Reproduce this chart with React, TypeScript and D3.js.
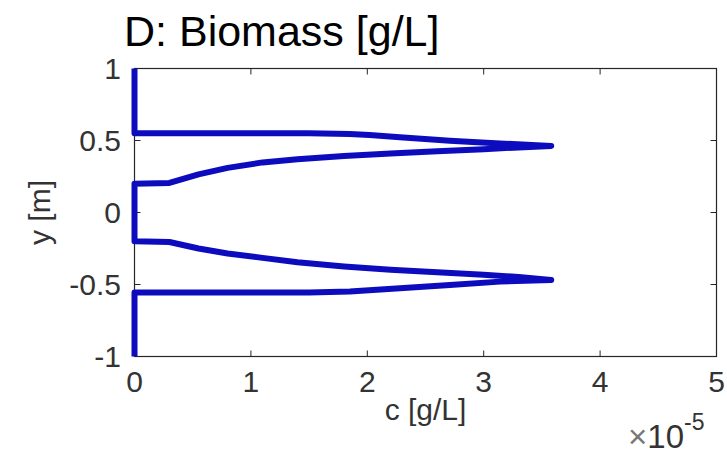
import React from "react";
import * as d3 from "d3";

// concentration c (×1e-5 g/L) and position y (m) along the plotted profile
const cValues = [0, 0, 1.5, 1.85, 2.02, 2.28, 2.71, 3.14, 3.58,
  3.3, 3.0, 2.6, 2.2, 1.8, 1.4, 1.1, 0.8, 0.55, 0.3, 0,
  0, 0.3, 0.55, 0.8, 1.1, 1.4, 1.8, 2.2, 2.6, 3.0, 3.3, 3.58,
  3.14, 2.71, 2.28, 1.85, 1.5, 0, 0];
const yValues = [1, 0.55, 0.55, 0.545, 0.538, 0.522, 0.499, 0.48, 0.462,
  0.452, 0.44, 0.425, 0.41, 0.393, 0.37, 0.348, 0.31, 0.265, 0.205, 0.2,
  -0.2, -0.205, -0.25, -0.285, -0.315, -0.345, -0.375, -0.398, -0.415, -0.432, -0.448, -0.468,
  -0.48, -0.503, -0.526, -0.548, -0.555, -0.555, -1];

const xTicks = [0, 1, 2, 3, 4, 5];
const yTicks = [-1, -0.5, 0, 0.5, 1];
const yTickLabels = ["-1", "-0.5", "0", "0.5", "1"];

const W = 727, H = 454;
const left = 134.5, right = 716.5, top = 68.5, bottom = 356.5;
const font = "'Liberation Sans', Arial, Helvetica, sans-serif";
const axisColor = "#262626";

export default function App() {
  const x = d3.scaleLinear().domain([0, 5]).range([left, right]);
  const y = d3.scaleLinear().domain([-1, 1]).range([bottom, top]);
  const pts: [number, number][] = cValues.map((c, i) => [c, yValues[i]]);
  const line = d3.line<[number, number]>().x(d => x(d[0])).y(d => y(d[1]));
  const tl = 6;
  return (
    <svg width={W} height={H} style={{ position: "absolute", left: 0, top: 0, background: "#fff" }}>
      <text x={124} y={46} fontFamily={font} fontSize={43} fill="#000">D: Biomass [g/L]</text>
      <rect x={left} y={top} width={right - left} height={bottom - top} fill="none" stroke={axisColor} strokeWidth={1.2} />
      {xTicks.map(t => (
        <g key={"x" + t}>
          <line x1={x(t)} x2={x(t)} y1={bottom} y2={bottom - tl} stroke={axisColor} />
          <line x1={x(t)} x2={x(t)} y1={top} y2={top + tl} stroke={axisColor} />
          <text x={x(t)} y={392} textAnchor="middle" fontFamily={font} fontSize={30} fill="#333">{t}</text>
        </g>
      ))}
      {yTicks.map((t, i) => (
        <g key={"y" + t}>
          <line x1={left} x2={left + tl} y1={y(t)} y2={y(t)} stroke={axisColor} />
          <line x1={right} x2={right - tl} y1={y(t)} y2={y(t)} stroke={axisColor} />
          <text x={121} y={y(t) + 10} textAnchor="end" fontFamily={font} fontSize={30} fill="#333">{yTickLabels[i]}</text>
        </g>
      ))}
      <path d={line(pts) || ""} fill="none" stroke="#0c0cbe" strokeWidth={6} strokeLinejoin="round" strokeLinecap="butt" />
      <text x={(left + right) / 2} y={420} textAnchor="middle" fontFamily={font} fontSize={30} fill="#333">c [g/L]</text>
      <text x={50} y={(top + bottom) / 2} textAnchor="middle" fontFamily={font} fontSize={30} fill="#333"
        transform={`rotate(-90, 50, ${(top + bottom) / 2})`}>y [m]</text>
      <text x={628} y={448} fontFamily={font} fontSize={33} fill="#333">
        <tspan fill="#777">×</tspan>10<tspan dy={-18} fontSize={23}>-5</tspan>
      </text>
    </svg>
  );
}
